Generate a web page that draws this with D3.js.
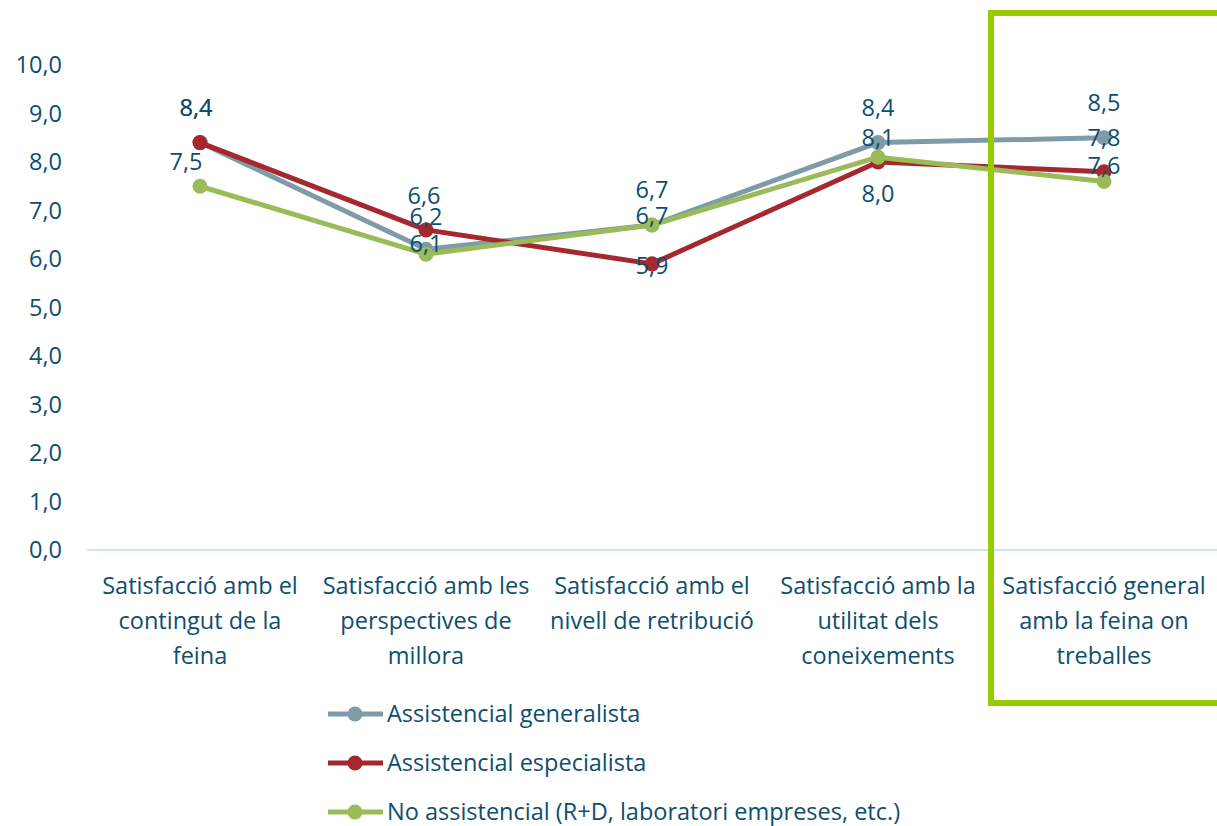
<!DOCTYPE html>
<html><head><meta charset="utf-8">
<script src="https://cdn.jsdelivr.net/npm/d3@7"></script>
<style>
html,body{margin:0;padding:0;background:#fff;}
svg{display:block;font-family:"Open Sans", "Noto Sans", sans-serif;}
</style></head>
<body><svg id="chart" width="1217" height="826"></svg>
<script>
const categories = [
  ["Satisfacció amb el","contingut de la","feina"],
  ["Satisfacció amb les","perspectives de","millora"],
  ["Satisfacció amb el","nivell de retribució"],
  ["Satisfacció amb la","utilitat dels","coneixements"],
  ["Satisfacció general","amb la feina on","treballes"]
];
const seriesNames = ["Assistencial generalista","Assistencial especialista","No assistencial (R+D, laboratori empreses, etc.)"];
const generalista = [8.4, 6.2, 6.7, 8.4, 8.5];
const especialista = [8.4, 6.6, 5.9, 8.0, 7.8];
const noAssistencial = [7.5, 6.1, 6.7, 8.1, 7.6];
const yTicks = [0,1,2,3,4,5,6,7,8,9,10];

// label placement (style only): [dx, dy] per series per category
const labelOffsets = [
  [[-4,-35],[0,-33],[0,-35],[0,-35],[0,-35]],
  [[-4,-35],[-2,-34],[0,2],[0,32],[0,-34]],
  [[-14,-24],[0,-10],[0,-9],[0,-19],[0,-16]]
];
const colors = ["#7f9ba8","#a5282e","#9bbb59"];
const textColor = "#0e4e6e";
const fs = 23.5;

const svg = d3.select("#chart");
const y = d3.scaleLinear().domain([0,10]).range([550,65]);
const x = d3.scaleBand().domain(d3.range(categories.length)).range([87,1217]);
const cx = i => x(i) + x.bandwidth()/2;

// y axis labels
svg.append("g").selectAll("text").data(yTicks).join("text")
  .attr("x", 62).attr("y", d => y(d)).attr("dy","0.35em")
  .attr("text-anchor","end").attr("fill",textColor).attr("font-size",fs)
  .text(d => d3.format(".1f")(d).replace(".",","));

// x axis line
svg.append("line").attr("x1",87).attr("x2",1217).attr("y1",y(0)).attr("y2",y(0))
  .attr("stroke","#bcd8ee").attr("stroke-width",1.5);

// category labels
const cg = svg.append("g").selectAll("text").data(categories).join("text")
  .attr("text-anchor","middle").attr("fill",textColor).attr("font-size",fs);
cg.each(function(lines,i){
  d3.select(this).selectAll("tspan").data(lines).join("tspan")
    .attr("x", cx(i)).attr("y",(d,j)=>586+j*35).attr("dy","0.35em").text(d=>d);
});

const allSeries = [generalista, especialista, noAssistencial];
const line = d3.line().x((d,i)=>cx(i)).y(d=>y(d));

allSeries.forEach((s,k)=>{
  const g = svg.append("g");
  g.append("path").datum(s).attr("d",line).attr("fill","none")
    .attr("stroke",colors[k]).attr("stroke-width",5).attr("stroke-linejoin","round");
  g.selectAll("circle").data(s).join("circle")
    .attr("cx",(d,i)=>cx(i)).attr("cy",d=>y(d)).attr("r",7.5).attr("fill",colors[k]);
});
allSeries.forEach((s,k)=>{
  svg.append("g").selectAll("text").data(s).join("text")
    .attr("x",(d,i)=>cx(i)+labelOffsets[k][i][0])
    .attr("y",(d,i)=>y(d)+labelOffsets[k][i][1]).attr("dy","0.35em")
    .attr("text-anchor","middle").attr("fill",textColor).attr("font-size",fs)
    .text(d=>d3.format(".1f")(d).replace(".",","));
});

// legend
const lg = svg.append("g").selectAll("g").data(seriesNames).join("g")
  .attr("transform",(d,i)=>`translate(0,${714+i*49})`);
lg.append("line").attr("x1",328).attr("x2",383).attr("y1",0).attr("y2",0)
  .attr("stroke",(d,i)=>colors[i]).attr("stroke-width",5);
lg.append("circle").attr("cx",355).attr("cy",0).attr("r",7.5).attr("fill",(d,i)=>colors[i]);
lg.append("text").attr("x",387).attr("y",0).attr("dy","0.35em")
  .attr("fill",textColor).attr("font-size",fs).text(d=>d);

// highlight box
svg.append("rect").attr("x",991).attr("y",13).attr("width",300).attr("height",690)
  .attr("fill","none").attr("stroke","#99cc00").attr("stroke-width",6);
</script></body></html>
